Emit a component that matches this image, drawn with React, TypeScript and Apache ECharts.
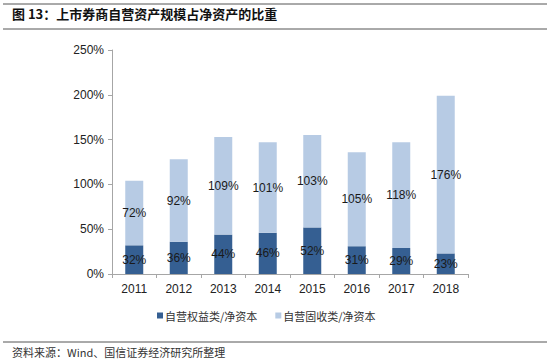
import React, { useEffect, useRef } from "react";
import * as echarts from "echarts";

const years = ["2011", "2012", "2013", "2014", "2015", "2016", "2017", "2018"];
const equityRatio = [32, 36, 44, 46, 52, 31, 29, 23];
const fixedIncomeRatio = [72, 92, 109, 101, 103, 105, 118, 176];
const seriesNames = ["自营权益类/净资本", "自营固收类/净资本"];
const titleText = "图 13：上市券商自营资产规模占净资产的比重";
const sourceText = "资料来源：Wind、国信证券经济研究所整理";

export default function App() {
  const ref = useRef<HTMLDivElement>(null);
  useEffect(() => {
    if (!ref.current) return;
    const chart = echarts.init(ref.current, null, { renderer: "svg" });
    const font = "Arial, 'Liberation Sans', sans-serif";
    const cjk = "'Noto Sans CJK SC', sans-serif";
    chart.setOption({
      animation: false,
      backgroundColor: "#ffffff",
      grid: { left: 112, right: 82, top: 50, bottom: 86 },
      legend: {
        left: 152,
        top: 305,
        itemWidth: 6,
        itemHeight: 6,
        itemGap: 18,
        icon: "rect",
        textStyle: { fontFamily: cjk, fontSize: 11, color: "#333", padding: [0, 0, 0, -3] },
        data: seriesNames,
      },
      xAxis: {
        type: "category",
        data: years,
        axisLine: { lineStyle: { color: "#a6a6a6" } },
        axisTick: { show: true, alignWithLabel: false, length: 4, lineStyle: { color: "#a6a6a6" } },
        axisLabel: { fontFamily: font, fontSize: 12, color: "#222", margin: 9 },
      },
      yAxis: {
        type: "value",
        min: 0,
        max: 250,
        interval: 50,
        axisLine: { show: true, lineStyle: { color: "#a6a6a6" } },
        axisTick: { show: true, length: 4, lineStyle: { color: "#a6a6a6" } },
        splitLine: { show: false },
        axisLabel: { formatter: "{value}%", fontFamily: font, fontSize: 12, color: "#222", margin: 8 },
      },
      series: [
        {
          name: seriesNames[0],
          type: "bar",
          stack: "total",
          barWidth: 18,
          data: equityRatio,
          itemStyle: { color: "#355f92" },
          label: {
            show: true,
            position: "inside",
            formatter: "{c}%",
            fontFamily: font,
            fontSize: 12,
            color: "#1a1a1a",
          },
        },
        {
          name: seriesNames[1],
          type: "bar",
          stack: "total",
          barWidth: 18,
          data: fixedIncomeRatio,
          itemStyle: { color: "#b7cbe4" },
          label: {
            show: true,
            position: "inside",
            formatter: "{c}%",
            fontFamily: font,
            fontSize: 12,
            color: "#1a1a1a",
          },
        },
      ],
      graphic: [
        { type: "line", shape: { x1: 3, y1: 4, x2: 547, y2: 4 }, style: { stroke: "#555", lineWidth: 1 } },
        {
          type: "text",
          left: 12,
          top: 7,
          style: { text: titleText, fontFamily: cjk, fontSize: 13, fontWeight: "bold", fill: "#111" },
        },
        { type: "line", shape: { x1: 3, y1: 29, x2: 547, y2: 29 }, style: { stroke: "#555", lineWidth: 1 } },
        { type: "line", shape: { x1: 3, y1: 342, x2: 547, y2: 342 }, style: { stroke: "#555", lineWidth: 1 } },
        {
          type: "text",
          left: 12,
          top: 346,
          style: { text: sourceText, fontFamily: cjk, fontSize: 11, fill: "#333" },
        },
      ],
    });
    return () => chart.dispose();
  }, []);
  return <div ref={ref} style={{ width: 550, height: 360, position: "absolute", left: 0, top: 0 }} />;
}
